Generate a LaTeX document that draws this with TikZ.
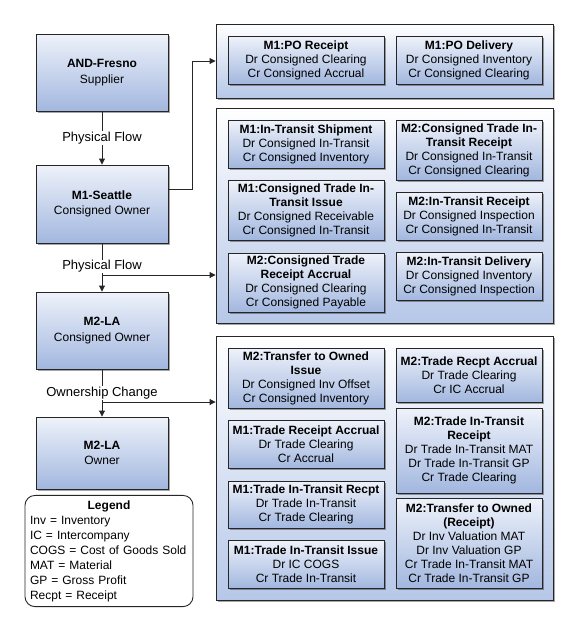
\documentclass[tikz,border=0pt]{standalone}
\usepackage{fontspec}
\setmainfont{Liberation Sans}
\usetikzlibrary{arrows.meta,shadows,calc}
\definecolor{boxtop}{HTML}{EEF2FA}
\definecolor{boxbot}{HTML}{A2B7DF}
\definecolor{grptop}{HTML}{FFFFFF}
\definecolor{grpbot}{HTML}{B6C7E8}
\definecolor{linec}{HTML}{262626}
\tikzset{
  shd/.style={drop shadow={shadow xshift=2pt,shadow yshift=-2pt,fill=black,opacity=0.35}},
  base/.style={draw=linec, line width=0.9pt, top color=boxtop, bottom color=boxbot, shd,
    align=center, inner sep=1pt, font=\fontsize{12}{14}\selectfont},
  party/.style={base, minimum width=132pt, font=\fontsize{12}{15.5}\selectfont},
  lcol/.style={base, minimum width=156pt},
  rcol/.style={base, minimum width=146pt},
  grpbox/.style={draw=linec, line width=0.9pt, top color=grptop, bottom color=grpbot, shd,
    minimum width=337pt},
  legendbox/.style={draw=linec, line width=0.9pt, fill=white, rounded corners=10pt,
    minimum width=168pt, minimum height=98pt, text width=158pt, inner sep=5pt,
    align=left, font=\fontsize{12}{15}\selectfont},
  flowlbl/.style={fill=white, inner sep=0.5pt, font=\fontsize{13}{15}\selectfont},
  conn/.style={draw=linec, line width=0.9pt},
  arr/.style={conn, -{Triangle[length=6pt,width=6pt]}}
}
\begin{document}
\begin{tikzpicture}[x=1pt,y=-1pt]
\useasboundingbox (0,0) rectangle (576,624);

% left party boxes
\node[party, minimum height=77pt] (fresno) at (102,72.5) {\textbf{AND-Fresno}\\Supplier};
\node[party, minimum height=78pt] (seattle) at (102,204) {\textbf{M1-Seattle}\\Consigned Owner};
\node[party, minimum height=77pt] (la1) at (102,330.5) {\textbf{M2-LA}\\Consigned Owner};
\node[party, minimum height=72pt] (la2) at (102,453) {\textbf{M2-LA}\\Owner};

% group boxes
\node[grpbox, minimum height=74pt] (g1) at (384.5,61) {};
\node[grpbox, minimum height=215pt] (g2) at (384.5,215.5) {};
\node[grpbox, minimum height=264pt] (g3) at (384.5,468) {};

% group 1
\node[lcol, minimum height=48pt] (por) at (306,60) {\textbf{M1:PO Receipt}\\Dr Consigned Clearing\\Cr Consigned Accrual};
\node[rcol, minimum height=48pt] (pod) at (469,60) {\textbf{M1:PO Delivery}\\Dr Consigned Inventory\\Cr Consigned Clearing};

% group 2
\node[lcol, minimum height=48pt] (its) at (306,144) {\textbf{M1:In-Transit Shipment}\\Dr Consigned In-Transit\\Cr Consigned Inventory};
\node[rcol, minimum height=60pt] (ctr) at (469,150) {\textbf{M2:Consigned Trade In-}\\\textbf{Transit Receipt}\\Dr Consigned In-Transit\\Cr Consigned Clearing};
\node[lcol, minimum height=60pt] (cti) at (306,210) {\textbf{M1:Consigned Trade In-}\\\textbf{Transit Issue}\\Dr Consigned Receivable\\Cr Consigned In-Transit};
\node[rcol, minimum height=48pt] (itr) at (469,216) {\textbf{M2:In-Transit Receipt}\\Dr Consigned Inspection\\Cr Consigned In-Transit};
\node[lcol, minimum height=59pt] (cra) at (306,282.5) {\textbf{M2:Consigned Trade}\\\textbf{Receipt Accrual}\\Dr Consigned Clearing\\Cr Consigned Payable};
\node[rcol, minimum height=48pt] (itd) at (469,276) {\textbf{M2:In-Transit Delivery}\\Dr Consigned Inventory\\Cr Consigned Inspection};

% group 3
\node[lcol, minimum height=60pt] (toi) at (306,378) {\textbf{M2:Transfer to Owned}\\\textbf{Issue}\\Dr Consigned Inv Offset\\Cr Consigned Inventory};
\node[rcol, minimum height=54pt] (tra) at (469,375) {\textbf{M2:Trade Recpt Accrual}\\Dr Trade Clearing\\Cr IC Accrual};
\node[lcol, minimum height=48pt] (tra1) at (306,444) {\textbf{M1:Trade Receipt Accrual}\\Dr Trade Clearing\\Cr Accrual};
\node[rcol, minimum height=85pt] (ttr) at (469,450.5) {\textbf{M2:Trade In-Transit}\\\textbf{Receipt}\\Dr Trade In-Transit MAT\\Dr Trade In-Transit GP\\Cr Trade Clearing};
\node[lcol, minimum height=47pt] (titr) at (306,504.5) {\textbf{M1:Trade In-Transit Recpt}\\Dr Trade In-Transit\\Cr Trade Clearing};
\node[rcol, minimum height=90pt] (tor) at (469,543) {\textbf{M2:Transfer to Owned}\\\textbf{(Receipt)}\\Dr Inv Valuation MAT\\Dr Inv Valuation GP\\Cr Trade In-Transit MAT\\Cr Trade In-Transit GP};
\node[lcol, minimum height=48pt] (tii) at (306,564) {\textbf{M1:Trade In-Transit Issue}\\Dr IC COGS\\Cr Trade In-Transit};

% legend
\node[legendbox] (legend) at (109,551) {{\centering\textbf{Legend}\par}Inv = Inventory\\IC = Intercompany\\COGS = Cost of Goods Sold\\MAT = Material\\GP = Gross Profit\\Recpt = Receipt};

% flow labels
\node[flowlbl] (pf1) at (102,138) {Physical Flow};
\node[flowlbl] (pf2) at (102,266.5) {Physical Flow};
\node[flowlbl] (oc) at (102,393) {Ownership Change};

% connectors
\draw[conn] (fresno.south) -- (pf1.north);
\draw[arr] (pf1.south) -- (seattle.north);
\draw[arr] ([yshift=15pt]seattle.east) -- ++(24,0) |- (g1.west);
\draw[conn] (seattle.south) -- (pf2.north);
\draw[arr] (pf2.south) -- (la1.north);
\coordinate (b1) at (102,275);
\draw[arr] (b1) -- (b1 -| g2.west);
\draw[conn] (la1.south) -- (oc.north);
\draw[arr] (oc.south) -- (la2.north);
\coordinate (b2) at (102,402);
\draw[arr] (b2) -- (b2 -| g3.west);
\end{tikzpicture}
\end{document}
